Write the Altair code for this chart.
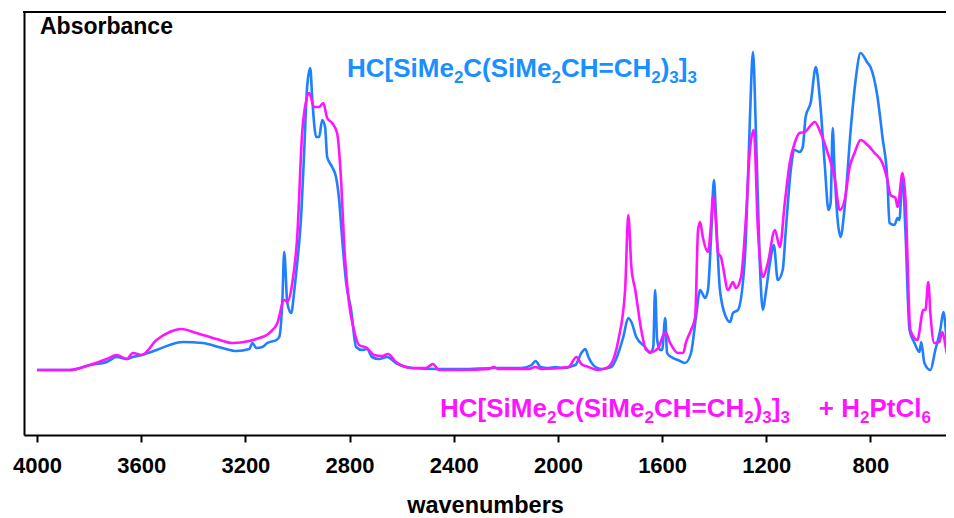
import altair as alt
import pandas as pd

# Blue spectrum: HC[SiMe2C(SiMe2CH=CH2)3]3
blue_wn = [4000, 3874, 3797, 3732, 3694, 3655, 3632, 3598, 3541, 3491, 3441, 3365, 3288, 3234, 3185,
           3173, 3158, 3135, 3116, 3081, 3070, 3058, 3051, 3039, 3024, 3012, 3001, 2986, 2974, 2963,
           2951, 2943, 2928, 2917, 2905, 2894, 2886, 2867, 2852, 2840, 2829, 2813, 2794, 2775, 2752,
           2733, 2714, 2687, 2656, 2622, 2561, 2469, 2369, 2239, 2140, 2101, 2086, 2067, 2036, 2009,
           1986, 1933, 1910, 1895, 1883, 1856, 1833, 1795, 1768, 1749, 1730, 1718, 1699, 1665, 1646,
           1634, 1627, 1619, 1607, 1600, 1588, 1581, 1565, 1539, 1512, 1489, 1470, 1454, 1435, 1424,
           1412, 1401, 1393, 1378, 1355, 1339, 1328, 1309, 1282, 1271, 1263, 1251, 1240, 1225, 1213,
           1202, 1186, 1171, 1156, 1137, 1125, 1106, 1091, 1072, 1060, 1049, 1029, 1010, 995, 976,
           961, 953, 945, 938, 926, 915, 899, 876, 857, 838, 811, 800, 773, 754, 735,
           727, 708, 696, 689, 677, 666, 650, 631, 612, 605, 593, 570, 551, 532, 520,
           505, 494]
blue_abs = [0.65, 0.65, 0.70, 0.73, 0.78, 0.76, 0.78, 0.80, 0.85, 0.90, 0.93, 0.92, 0.87, 0.84, 0.86,
            0.92, 0.87, 0.88, 0.92, 0.95, 0.98, 1.35, 1.83, 1.32, 1.22, 1.45, 1.72, 2.18, 2.85, 3.48,
            3.67, 3.35, 2.98, 2.98, 3.15, 3.08, 2.78, 2.68, 2.58, 2.35, 1.98, 1.52, 1.25, 0.88, 0.85,
            0.86, 0.78, 0.76, 0.78, 0.72, 0.67, 0.66, 0.66, 0.67, 0.67, 0.70, 0.74, 0.68, 0.67, 0.68,
            0.67, 0.70, 0.82, 0.86, 0.78, 0.68, 0.66, 0.68, 0.82, 0.98, 1.17, 1.13, 0.98, 0.88, 0.82,
            0.88, 1.45, 0.95, 0.85, 0.85, 1.17, 0.82, 0.78, 0.75, 0.72, 0.82, 1.18, 1.45, 1.37, 1.45,
            1.98, 2.55, 2.18, 1.45, 1.18, 1.13, 1.22, 1.25, 1.78, 2.52, 3.15, 3.83, 3.05, 1.72, 1.25,
            1.42, 1.72, 1.90, 1.55, 1.65, 2.05, 2.65, 2.85, 2.83, 2.88, 3.18, 3.33, 3.68, 3.38, 2.72,
            2.25, 2.32, 3.07, 2.65, 2.15, 1.98, 2.28, 3.05, 3.55, 3.82, 3.72, 3.68, 3.38, 2.98, 2.55,
            2.12, 2.10, 2.17, 2.15, 2.60, 2.05, 1.05, 0.92, 0.83, 0.93, 0.72, 0.65, 0.85, 1.05, 1.23,
            0.88, 0.65]

# Magenta spectrum: HC[SiMe2C(SiMe2CH=CH2)3]3 + H2PtCl6
pink_wn = [4000, 3874, 3797, 3732, 3694, 3655, 3632, 3598, 3541, 3491, 3445, 3388, 3311, 3250, 3185,
           3158, 3108, 3077, 3051, 3039, 3020, 3001, 2982, 2966, 2955, 2936, 2917, 2901, 2886, 2867,
           2848, 2832, 2821, 2802, 2783, 2764, 2733, 2706, 2675, 2652, 2622, 2561, 2507, 2480, 2457,
           2369, 2266, 2247, 2228, 2113, 2086, 2063, 1960, 1929, 1910, 1883, 1845, 1807, 1768, 1742,
           1730, 1718, 1703, 1680, 1661, 1642, 1615, 1588, 1569, 1539, 1519, 1508, 1489, 1473, 1462,
           1454, 1443, 1424, 1412, 1405, 1397, 1385, 1374, 1366, 1347, 1328, 1317, 1297, 1278, 1263,
           1248, 1232, 1213, 1194, 1167, 1148, 1129, 1110, 1091, 1072, 1052, 1014, 991, 964, 938,
           918, 899, 880, 861, 838, 811, 784, 754, 735, 723, 704, 696, 677, 666, 647,
           620, 597, 589, 578, 570, 555, 536, 524, 509, 494]
pink_abs = [0.65, 0.65, 0.70, 0.76, 0.80, 0.76, 0.82, 0.80, 0.95, 1.03, 1.06, 1.02, 0.96, 0.92, 0.94,
            0.96, 1.02, 1.12, 1.35, 1.33, 1.52, 1.98, 3.02, 3.35, 3.42, 3.28, 3.28, 3.32, 3.17, 3.12,
            3.02, 2.52, 1.92, 1.32, 1.05, 0.90, 0.87, 0.80, 0.79, 0.81, 0.73, 0.67, 0.67, 0.71, 0.65,
            0.65, 0.66, 0.68, 0.66, 0.66, 0.68, 0.66, 0.68, 0.78, 0.71, 0.68, 0.65, 0.68, 0.95, 1.45,
            2.20, 1.68, 1.45, 1.05, 0.85, 0.83, 0.87, 1.03, 0.92, 0.82, 0.82, 0.93, 1.05, 1.18, 2.05,
            2.13, 1.97, 1.83, 2.12, 2.38, 2.25, 1.82, 1.78, 1.68, 1.45, 1.53, 1.47, 1.58, 2.18, 2.85,
            3.05, 2.05, 1.58, 1.72, 2.05, 1.88, 2.32, 2.72, 2.92, 3.02, 3.03, 3.13, 3.02, 2.82, 2.58,
            2.25, 2.35, 2.68, 2.82, 2.95, 2.90, 2.82, 2.72, 2.55, 2.40, 2.37, 2.28, 2.62, 2.38, 1.05,
            0.95, 1.25, 1.25, 1.53, 1.22, 0.92, 0.93, 1.03, 0.85, 0.65]

x_ticks = [4000, 3600, 3200, 2800, 2400, 2000, 1600, 1200, 800]

# label pieces: (text, is_subscript)
blue_label = [("HC[SiMe", 0), ("2", 1), ("C(SiMe", 0), ("2", 1), ("CH=CH", 0), ("2", 1),
              (")", 0), ("3", 1), ("]", 0), ("3", 1)]
pink_label = blue_label + [("    + H", 0), ("2", 1), ("PtCl", 0), ("6", 1)]

W, H = 922, 423
FONT = "Liberation Sans"
BLUE_LINE = "#1f7fff"
BLUE_TEXT = "#1a90ff"
PINK = "#ff14ff"
F_MAIN, F_SUB = 26, 17

# Arial/Liberation Sans Bold advance widths (per 1000 em)
ADV = {"H": 722, "C": 722, "[": 333, "]": 333, "S": 667, "i": 278, "M": 833, "e": 556,
       "(": 333, ")": 333, "=": 584, " ": 278, "+": 584, "P": 667, "t": 333, "l": 278}


def seg_width(s, size):
    return sum(ADV.get(ch, 556) for ch in s) * size / 1000.0


def label_layers(pieces, x0, y0, color):
    rows = []
    x = x0
    for txt, sub in pieces:
        size = F_SUB if sub else F_MAIN
        stripped = txt.lstrip(" ")
        x += seg_width(txt[:len(txt) - len(stripped)], size)
        rows.append({"t": stripped, "px": x, "py": y0 + (6 if sub else 0), "size": size})
        x += seg_width(stripped, size)
    df = pd.DataFrame(rows)
    out = []
    for size in (F_MAIN, F_SUB):
        d = df[df["size"] == size]
        out.append(alt.Chart(d).mark_text(align="left", baseline="alphabetic", font=FONT,
                                          fontSize=size, fontWeight="bold", color=color).encode(
            text="t:N",
            x=alt.X("px:Q", scale=None),
            y=alt.Y("py:Q", scale=None)))
    return out


df_b = pd.DataFrame({"wn": blue_wn, "absorbance": blue_abs})
df_p = pd.DataFrame({"wn": pink_wn, "absorbance": pink_abs})

xscale = alt.Scale(domain=[4050, 510], nice=False, zero=False)
yscale = alt.Scale(domain=[0, 4.23], nice=False, zero=False)

xaxis = alt.Axis(values=x_ticks, title="wavenumbers", format="d",
                 domainColor="black", domainWidth=2, tickColor="black", tickWidth=2,
                 tickSize=7, labelFont=FONT, labelFontSize=22, labelFontWeight="bold",
                 labelColor="black", labelPadding=13, titleFont=FONT, titleFontSize=23.5,
                 titleFontWeight="bold", titleColor="black", titlePadding=17, grid=False)
yaxis = alt.Axis(title=None, labels=False, ticks=False, domainColor="black",
                 domainWidth=2, grid=False)

blue = alt.Chart(df_b).mark_line(color=BLUE_LINE, strokeWidth=2.6, clip=True,
                                 interpolate="monotone").encode(
    x=alt.X("wn:Q", scale=xscale, axis=xaxis),
    y=alt.Y("absorbance:Q", scale=yscale, axis=yaxis),
)
pink = alt.Chart(df_p).mark_line(color=PINK, strokeWidth=2.6, clip=True,
                                 interpolate="monotone").encode(
    x=alt.X("wn:Q", scale=xscale, axis=xaxis),
    y=alt.Y("absorbance:Q", scale=yscale, axis=yaxis),
)

top_rule = alt.Chart(pd.DataFrame({"a": [0]})).mark_rule(color="black", strokeWidth=2).encode(
    x=alt.value(-1), x2=alt.value(W), y=alt.value(0)
)

absorb = alt.Chart(pd.DataFrame({"t": ["Absorbance"]})).mark_text(
    align="left", baseline="middle", font=FONT, fontSize=23, fontWeight="bold", color="black"
).encode(text="t:N", x=alt.value(16), y=alt.value(15))

layers = [blue, pink, top_rule, absorb]
layers += label_layers(blue_label, 323, 65, BLUE_TEXT)
layers += label_layers(pink_label, 416, 405, PINK)

chart = alt.layer(*layers).properties(
    width=W, height=H,
    autosize=alt.AutoSizeParams(type="none"),
    padding={"left": 16, "top": 4, "right": 0, "bottom": 83},
).configure_view(stroke=None).configure(background="white")

chart.save("out.html", embed_options={"renderer": "svg", "actions": False})
